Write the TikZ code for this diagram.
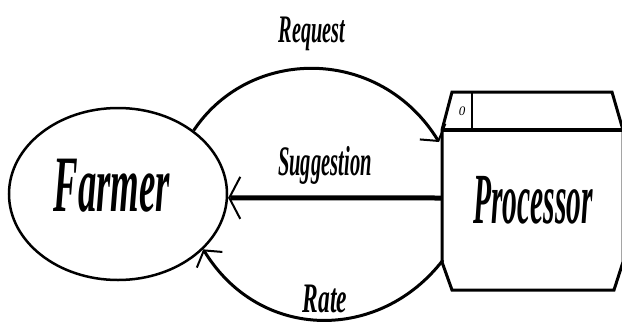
\documentclass[tikz,border=0pt]{standalone}
\usepackage{fontspec}
\setmainfont{Liberation Serif}
\usetikzlibrary{shapes.geometric,arrows.meta}
\newcommand\condtext[3]{\scalebox{#1}[1]{\fontsize{#2}{#2}\selectfont\bfseries\itshape #3}}
\begin{document}
\begin{tikzpicture}[x=1pt,y=-1pt,
  flow/.style={line width=3pt,-{Straight Barb[length=11pt,width=30pt,line width=2pt]}},
  lbl/.style={anchor=base,inner sep=0pt}]
\useasboundingbox (0,0) rectangle (622,325);
% Farmer
\node[ellipse,draw,line width=2.5pt,minimum width=218pt,minimum height=172pt,inner sep=0pt] (farmer) at (118,194) {};
\node[lbl] (farmerlbl) at (112,211) {\condtext{0.46}{80pt}{Farmer}};
% Processor store
\node[inner sep=0pt,minimum width=180pt,minimum height=198pt] (proc) at (532,191) {};
\draw[line width=3pt,line join=miter] (452,92) -- (612,92) -- (623,130) -- (623,262) -- (614,290) -- (452,290) -- (442,262) -- (442,130) -- cycle;
\draw[line width=3.5pt] (442,130) -- (623,130);
\draw[line width=1.5pt] (472,92) -- (472,130);
\node[inner sep=0pt] (zero) at (462,111) {\fontsize{13pt}{13pt}\selectfont\itshape 0};
\node[lbl] (proclbl) at (533,223) {\condtext{0.41}{72pt}{Processor}};
% connectors
\coordinate (reqend) at (439,142);
\coordinate (sugstart) at (442,198);
\coordinate (ratestart) at (443,260);
\draw[flow] (farmer.40) .. controls (250,46) and (380,46) .. (reqend);
\draw[flow,line width=5pt,-{Straight Barb[length=11pt,width=42pt,line width=2pt]}] (sugstart) -- (farmer.-2);
\draw[flow] (ratestart) .. controls (380,342) and (260,342) .. (farmer.-33);
% labels
\node[lbl] (reqlbl) at (312,42) {\condtext{0.52}{39pt}{Request}};
\node[lbl] (suglbl) at (325,175) {\condtext{0.49}{42pt}{Suggestion}};
\node[lbl] (ratelbl) at (325,312) {\condtext{0.56}{42pt}{Rate}};
\end{tikzpicture}
\end{document}
